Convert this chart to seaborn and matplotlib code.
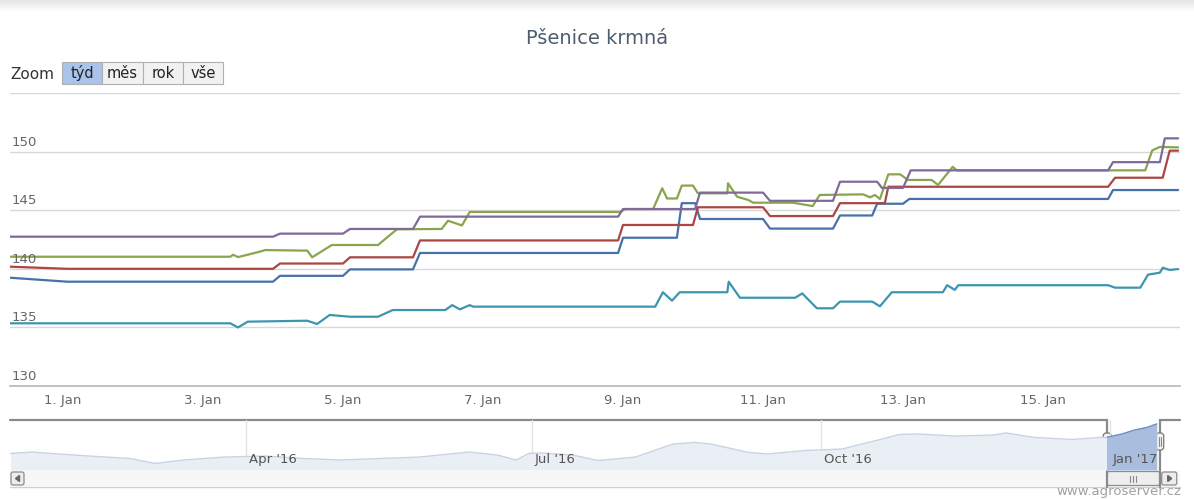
import numpy as np
import pandas as pd
import seaborn as sns
import matplotlib.pyplot as plt
from matplotlib.patches import Rectangle, FancyBboxPatch, Polygon
from matplotlib.transforms import blended_transform_factory

title = 'Pšenice krmná'
zoom_buttons = ['týd', 'měs', 'rok', 'vše']
series_colors = ['#4572A7', '#AA4643', '#89A54E', '#80699B', '#3D96AE']

# days after 1 Jan 2017 00:00, and price
blue_days = [-0.76, 0.06, 3.0, 3.1, 4.0, 4.1, 5.0, 5.1, 7.93, 8.0, 8.77, 8.84, 9.03, 9.1, 10.0, 10.1,
             11.0, 11.1, 11.56, 11.63, 12.0, 12.09, 14.93, 15.0, 15.93]
blue_vals = [139.24, 138.9, 138.9, 139.4, 139.4, 139.95, 139.95, 141.35, 141.35, 142.65, 142.65, 145.6,
             145.6, 144.25, 144.25, 143.43, 143.43, 144.55, 144.55, 145.55, 145.55, 145.96, 145.96,
             146.72, 146.72]

red_days = [-0.76, 0.06, 3.0, 3.1, 4.0, 4.1, 5.0, 5.1, 7.93, 8.0, 9.0, 9.07, 10.0, 10.1, 11.0, 11.1,
            11.74, 11.79, 14.93, 15.03, 15.71, 15.81, 15.93]
red_vals = [140.18, 140.0, 140.0, 140.45, 140.45, 140.98, 140.98, 142.42, 142.42, 143.74, 143.74,
            145.25, 145.25, 144.5, 144.5, 145.6, 145.6, 147.0, 147.0, 147.77, 147.77, 150.08, 150.08]

green_days = [-0.76, 2.39, 2.43, 2.5, 2.57, 2.81, 2.89, 3.49, 3.56, 3.84, 4.5, 4.77, 5.41, 5.5, 5.7,
              5.81, 7.96, 8.03, 8.43, 8.56, 8.63, 8.77, 8.84, 9.0, 9.07, 9.49, 9.5, 9.63, 9.79, 9.86,
              10.43, 10.71, 10.81, 11.43, 11.53, 11.6, 11.67, 11.79, 11.96, 12.07, 12.41, 12.5,
              12.71, 12.77, 15.46, 15.56, 15.67, 15.93]
green_vals = [141.03, 141.03, 141.2, 141.0, 141.1, 141.46, 141.6, 141.55, 140.98, 142.03, 142.03,
              143.37, 143.4, 144.1, 143.7, 144.85, 144.85, 145.1, 145.1, 146.87, 146.0, 146.0,
              147.1, 147.1, 146.44, 146.44, 147.3, 146.15, 145.87, 145.64, 145.64, 145.35, 146.3,
              146.35, 146.1, 146.3, 145.95, 148.06, 148.06, 147.58, 147.58, 147.15, 148.7, 148.4,
              148.4, 150.1, 150.4, 150.36]

purple_days = [-0.76, 3.0, 3.1, 4.0, 4.1, 5.0, 5.1, 7.93, 8.0, 9.03, 9.1, 10.0, 10.1, 11.0, 11.1,
               11.63, 11.7, 12.0, 12.11, 14.93, 15.0, 15.67, 15.74, 15.93]
purple_vals = [142.74, 142.74, 143.0, 143.0, 143.4, 143.4, 144.45, 144.45, 145.1, 145.1, 146.5,
               146.5, 145.8, 145.8, 147.43, 147.43, 146.9, 146.9, 148.4, 148.4, 149.1, 149.1,
               151.13, 151.13]

teal_days = [-0.76, 2.39, 2.5, 2.64, 3.49, 3.63, 3.81, 4.1, 4.5, 4.71, 5.46, 5.56, 5.67, 5.81, 5.86,
             8.46, 8.57, 8.7, 8.81, 9.49, 9.51, 9.67, 10.46, 10.56, 10.77, 11.0, 11.1, 11.56, 11.67,
             11.84, 12.57, 12.63, 12.74, 12.79, 14.93, 15.03, 15.39, 15.5, 15.67, 15.71, 15.81, 15.93]
teal_vals = [135.35, 135.35, 135.0, 135.49, 135.57, 135.29, 136.06, 135.91, 135.91, 136.48, 136.48,
             136.9, 136.54, 136.9, 136.77, 136.77, 138.0, 137.28, 138.0, 138.0, 138.9, 137.53,
             137.53, 137.9, 136.63, 136.63, 137.2, 137.2, 136.8, 138.0, 138.0, 138.6, 138.2, 138.6,
             138.6, 138.39, 138.39, 139.5, 139.67, 140.09, 139.9, 139.98]

# navigator (whole year)
nav_dates = ['2016-01-17', '2016-01-24', '2016-01-30', '2016-02-11', '2016-02-24', '2016-03-03',
             '2016-03-12', '2016-03-25', '2016-04-07', '2016-04-19', '2016-05-01', '2016-05-14',
             '2016-05-26', '2016-06-11', '2016-06-20', '2016-06-26', '2016-06-30', '2016-07-04',
             '2016-07-14', '2016-07-22', '2016-08-03', '2016-08-15', '2016-08-22', '2016-08-27',
             '2016-09-08', '2016-09-14', '2016-09-26', '2016-10-08', '2016-10-14', '2016-10-20',
             '2016-10-26', '2016-11-01', '2016-11-13', '2016-11-25', '2016-11-29', '2016-12-08',
             '2016-12-20', '2016-12-29', '2016-12-31', '2017-01-05', '2017-01-09', '2017-01-13',
             '2017-01-16']
nav_vals = [129.6, 130.4, 129.6, 128.1, 126.7, 123.8, 125.8, 127.5, 128.1, 126.7, 125.8, 126.7,
            127.5, 130.4, 128.7, 125.8, 129.6, 129.9, 128.7, 125.5, 127.5, 135.1, 136.0, 135.1,
            130.2, 129.3, 131.3, 132.2, 135.1, 137.7, 140.6, 140.9, 139.7, 140.3, 141.5, 138.9,
            137.7, 138.9, 138.9, 140.9, 143.2, 144.7, 146.7]
nav_months = ['2016-04-01', '2016-07-01', '2016-10-01', '2017-01-01']
nav_month_labels = ["Apr '16", "Jul '16", "Oct '16", "Jan '17"]

base = pd.Timestamp('2017-01-01')
names = ['blue', 'red', 'green', 'purple', 'teal']
all_days = [blue_days, red_days, green_days, purple_days, teal_days]
all_vals = [blue_vals, red_vals, green_vals, purple_vals, teal_vals]
df = pd.concat([pd.DataFrame({'time': base + pd.to_timedelta(d, unit='D'), 'value': v, 'series': n})
                for n, d, v in zip(names, all_days, all_vals)], ignore_index=True)

sns.set_style('white')
plt.rcParams['font.family'] = ['DejaVu Sans']

W, H = 1194, 499
fig = plt.figure(figsize=(W / 100, H / 100), dpi=100)
fig.patch.set_facecolor('white')


def fx(px):
    return px / W


def fy(py):
    return 1 - py / H


# overlay in pixel coordinates for the UI parts
ov = fig.add_axes([0, 0, 1, 1])
ov.set_xlim(0, W)
ov.set_ylim(H, 0)
ov.axis('off')
shadow = np.zeros((12, 1, 4))
shadow[..., :3] = 0.55
shadow[:, 0, 3] = np.linspace(0.22, 0, 12)
ov.imshow(shadow, extent=(0, W, 12, 0), aspect='auto')

fig.text(0.5, fy(38), title, ha='center', va='center', fontsize=14, color='#4d5d6e')

# zoom buttons
ov.text(10, 74, 'Zoom', va='center', ha='left', fontsize=11, color='#333333')
bx = 62
for i, lbl in enumerate(zoom_buttons):
    w = 40 if i != 1 else 41
    fc = '#a9c3ea' if i == 0 else '#f1f1f1'
    ov.add_patch(Rectangle((bx, 62), w, 22, facecolor=fc, edgecolor='#b0b0b0', lw=0.8))
    ov.text(bx + w / 2, 73, lbl, ha='center', va='center', fontsize=10.5, color='#222222')
    bx += w

# main chart
ax = fig.add_axes([fx(10), fy(386), fx(1180) - fx(10), fy(93) - fy(386)])
ax.set_facecolor('none')
sns.lineplot(data=df, x='time', y='value', hue='series', palette=dict(zip(names, series_colors)),
             estimator=None, sort=False, legend=False, linewidth=1.6, ax=ax)
ax.set_xlim(base - pd.Timedelta(days=0.757), base + pd.Timedelta(days=15.957))
ax.set_ylim(130, 155)
ax.set_yticks(range(130, 160, 5))
ax.grid(axis='y', color='#d8d8d8', lw=1)
ax.tick_params(axis='y', length=0, labelleft=False)
ytr = blended_transform_factory(ax.transAxes, ax.transData)
for v in range(130, 155, 5):
    ax.annotate(str(v), (0, v), xycoords=ytr, xytext=(2, 3), textcoords='offset pixels',
                ha='left', va='bottom', fontsize=9.5, color='#666666')
tick_dates = pd.date_range('2017-01-01', '2017-01-15', freq='2D')
ax.set_xticks(tick_dates)
ax.set_xticklabels([f'{d.day}. Jan' for d in tick_dates], fontsize=9.5, color='#666666')
ax.tick_params(axis='x', length=5, color='#c0d0e0', pad=1)
for s in ['top', 'left', 'right']:
    ax.spines[s].set_visible(False)
ax.spines['bottom'].set_color('#b8b8b8')
ax.spines['bottom'].set_linewidth(1.2)
ax.set_xlabel('')
ax.set_ylabel('')

# navigator
nav = fig.add_axes([fx(10), fy(470), fx(1180) - fx(10), fy(420) - fy(470)])
nav.set_facecolor('none')
nav_t = pd.to_datetime(nav_dates)
nav.set_xlim(pd.Timestamp('2016-01-16 19:00'), pd.Timestamp('2017-01-23 10:00'))
nav.set_ylim(120, 149)
nav.axis('off')
for m, lbl in zip(pd.to_datetime(nav_months), nav_month_labels):
    nav.axvline(m, color='#e4e4e4', lw=1, zorder=0)
    nav.annotate(lbl, (m, 0), xycoords=('data', 'axes fraction'), xytext=(3, 4),
                 textcoords='offset pixels', ha='left', va='bottom', fontsize=9.5, color='#555555',
                 zorder=3)
nav.fill_between(nav_t, 120, nav_vals, color='#eaeff6', lw=0, zorder=0.5)
sns.lineplot(x=nav_t, y=nav_vals, color='#c8d3e4', lw=1, ax=nav, zorder=0.6)

sel0, sel1 = ax.get_xlim()
clip = Rectangle((sel0, 120), sel1 - sel0, 29, transform=nav.transData)
fb = nav.fill_between(nav_t, 120, nav_vals, color='#a9bedf', lw=0, zorder=2)
fb.set_clip_path(clip)
ln, = nav.plot(nav_t, nav_vals, color='#6f8fbf', lw=1, zorder=2.1)
ln.set_clip_path(clip)

# positions of the selection in pixels
x0 = nav.transData.transform((sel0, 0))[0]
x1 = nav.transData.transform((sel1, 0))[0]

# scrollbar
ov.add_patch(Rectangle((10, 471), 1170, 15, facecolor='#f7f7f7', edgecolor='none'))
ov.plot([10, 1180], [486.5, 486.5], color='#cfcfcf', lw=1)
ov.add_patch(FancyBboxPatch((11, 472), 13, 13, boxstyle='round,pad=0,rounding_size=2',
                            facecolor='#ececec', edgecolor='#8c8c8c', lw=0.9))
ov.add_patch(Polygon([[19.5, 475.5], [19.5, 481.5], [15.5, 478.5]], closed=True, color='#666666'))
ov.add_patch(FancyBboxPatch((x0, 471.5), x1 - x0, 14, boxstyle='round,pad=0,rounding_size=2',
                            facecolor='#eeeeee', edgecolor='#8c8c8c', lw=0.9))
for dx in (-3, 0, 3):
    ov.plot([(x0 + x1) / 2 + dx] * 2, [475.5, 482], color='#888888', lw=0.8)
ov.add_patch(FancyBboxPatch((x1 + 2, 472), 15, 13, boxstyle='round,pad=0,rounding_size=2',
                            facecolor='#ececec', edgecolor='#8c8c8c', lw=0.9))
ov.add_patch(Polygon([[x1 + 8, 475.5], [x1 + 8, 481.5], [x1 + 12, 478.5]], closed=True,
                     color='#666666'))

# navigator outline
ov.plot([10, x0, x0], [420, 420, 487], color='#8a8a8a', lw=1.6, solid_joinstyle='miter')
ov.plot([x1, x1, 1180], [487, 420, 420], color='#8a8a8a', lw=1.6, solid_joinstyle='miter')

# handles
for hx in (x0, x1):
    ov.add_patch(FancyBboxPatch((hx - 4, 433), 8, 17, boxstyle='round,pad=0,rounding_size=3',
                                facecolor='#f4f4f4', edgecolor='#777777', lw=0.9, zorder=5))
    ov.plot([hx - 1, hx - 1], [437, 446], color='#888888', lw=0.8, zorder=6)
    ov.plot([hx + 1, hx + 1], [437, 446], color='#888888', lw=0.8, zorder=6)

fig.text(fx(1181), fy(492), 'www.agroserver.cz', ha='right', va='center', fontsize=9.5,
         color='#a0a0a0')

fig.savefig('out.png', dpi=100)
